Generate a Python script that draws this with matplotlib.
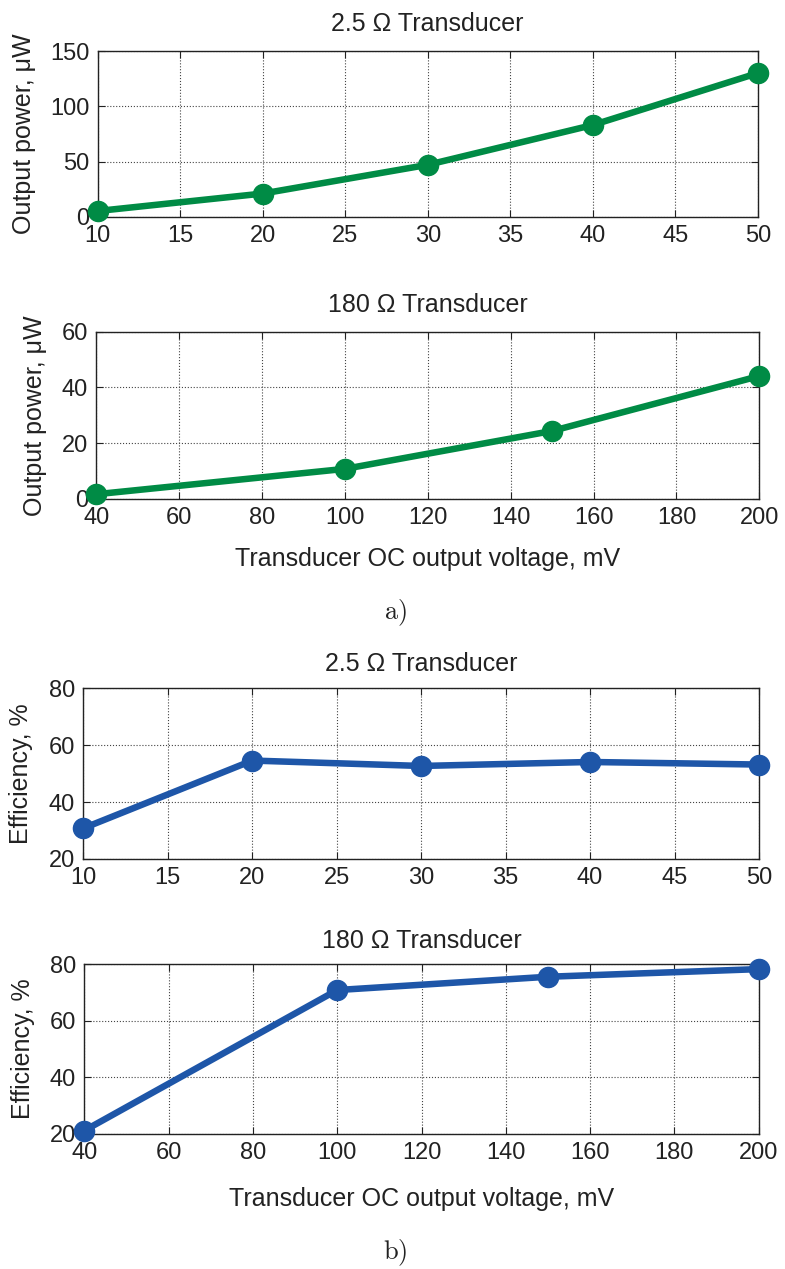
import matplotlib
matplotlib.use("Agg")
import matplotlib.pyplot as plt

plt.rcParams['font.family'] = ['Liberation Sans', 'DejaVu Sans']
plt.rcParams['mathtext.fontset'] = 'cm'

# Output power, 2.5 ohm transducer
v_low = [10, 20, 30, 40, 50]
p_low = [5.2, 21.0, 47.0, 83.0, 130.0]
# Output power, 180 ohm transducer
v_high = [40, 100, 150, 200]
p_high = [1.7, 10.8, 24.4, 44.1]
# Efficiency
eff_low = [30.8, 54.6, 52.7, 54.1, 53.2]
eff_high = [21.2, 70.9, 75.6, 78.3]

titles = ["2.5 \u03a9 Transducer", "180 \u03a9 Transducer"]
xlabel = "Transducer OC output voltage, mV"
ylabel_power = "Output power, \u03bcW"
ylabel_eff = "Efficiency, %"

green = "#008B45"
blue = "#1E56A8"

fig = plt.figure(figsize=(7.85, 12.69), dpi=100)

panels = [
    dict(rect=[0.1245, 0.8292, 0.8408, 0.1306], x=v_low, y=p_low, color=green,
         xlim=(10, 50), xticks=range(10, 51, 5), ylim=(0, 150), yticks=range(0, 151, 50),
         title=titles[0], pad=14.5, ylabel=ylabel_power, ylx=-0.0935, xl=None),
    dict(rect=[0.1227, 0.6068, 0.8446, 0.1318], x=v_high, y=p_high, color=green,
         xlim=(40, 200), xticks=range(40, 201, 20), ylim=(0, 60), yticks=range(0, 61, 20),
         title=titles[1], pad=14.5, ylabel=ylabel_power, ylx=-0.0744, xl=-0.287),
    dict(rect=[0.1061, 0.3231, 0.8608, 0.1345], x=v_low, y=eff_low, color=blue,
         xlim=(10, 50), xticks=range(10, 51, 5), ylim=(20, 80), yticks=range(20, 81, 20),
         title=titles[0], pad=12.8, ylabel=ylabel_eff, ylx=-0.0744, xl=None),
    dict(rect=[0.1074, 0.1064, 0.8591, 0.1337], x=v_high, y=eff_high, color=blue,
         xlim=(40, 200), xticks=range(40, 201, 20), ylim=(20, 80), yticks=range(20, 81, 20),
         title=titles[1], pad=11.4, ylabel=ylabel_eff, ylx=-0.073, xl=-0.31),
]

for p in panels:
    ax = fig.add_axes(p['rect'])
    ax.plot(p['x'], p['y'], color=p['color'], lw=4.7, marker='o', ms=14.5,
            mec=p['color'], mfc=p['color'], clip_on=False, zorder=5)
    ax.set_xlim(*p['xlim'])
    ax.set_ylim(*p['ylim'])
    ax.set_xticks(list(p['xticks']))
    ax.set_yticks(list(p['yticks']))
    ax.grid(True, color='#444444', linestyle=':', linewidth=0.8)
    ax.tick_params(direction='in', length=5, width=0.8, labelsize=17, pad=6,
                   top=True, right=True, colors='#222222', labelcolor='#222222')
    for s in ax.spines.values():
        s.set_color('#222222')
        s.set_linewidth(1.0)
    ax.set_title(p['title'], fontsize=18, pad=p['pad'], color='#222222')
    ax.set_ylabel(p['ylabel'], fontsize=18, color='#222222')
    ax.yaxis.set_label_coords(p['ylx'], 0.5)
    if p['xl'] is not None:
        ax.set_xlabel(xlabel, fontsize=18, color='#222222', va='top')
        ax.xaxis.set_label_coords(0.5, p['xl'])

fig.text(395 / 785, 1 - 613 / 1269, r'$\mathrm{a)}$', fontsize=19, ha='center', va='center',
         color='#222222')
fig.text(395 / 785, 1 - 1253 / 1269, r'$\mathrm{b)}$', fontsize=19, ha='center', va='center',
         color='#222222')

fig.savefig('out.png', dpi=100)
